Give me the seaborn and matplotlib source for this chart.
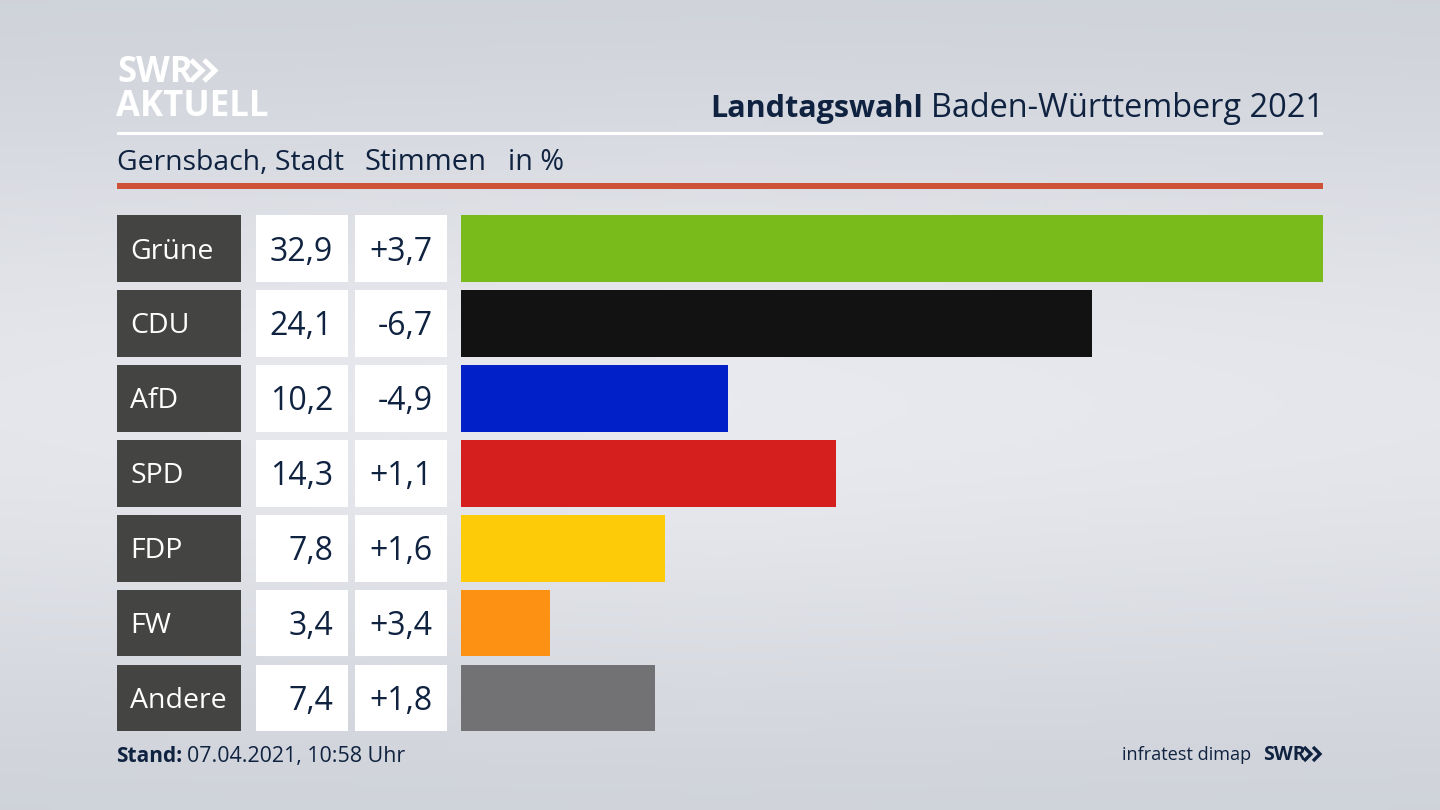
import numpy as np
import pandas as pd
import matplotlib
matplotlib.use('Agg')
import matplotlib.pyplot as plt
import seaborn as sns
from matplotlib.patches import Rectangle
from matplotlib.transforms import blended_transform_factory

parteien = ['Grüne', 'CDU', 'AfD', 'SPD', 'FDP', 'FW', 'Andere']
stimmen = [32.9, 24.1, 10.2, 14.3, 7.8, 3.4, 7.4]
stimmen_text = ['32,9', '24,1', '10,2', '14,3', '7,8', '3,4', '7,4']
diff_text = ['+3,7', '-6,7', '-4,9', '+1,1', '+1,6', '+3,4', '+1,8']
farben = ['#78bb1a', '#121212', '#0120c8', '#d51f1e', '#fdcb08', '#fd9114', '#727274']

W, H = 1440, 810
NAVY = '#0f2240'
FONT = 'Open Sans'

sns.set_theme(style='white')
plt.rcParams['font.family'] = [FONT, 'DejaVu Sans']

fig = plt.figure(figsize=(W / 100, H / 100), dpi=100)

# background, light band in the middle
bg = fig.add_axes([0, 0, 1, 1], zorder=0)
yy, xx = np.mgrid[0:1:200j, 0:1:200j]
shade = np.exp(-(((yy - 0.5) / 0.36) ** 2)) * (1 - 0.15 * np.abs(xx - 0.5) * 2)
bg.imshow(shade, cmap=matplotlib.colors.LinearSegmentedColormap.from_list('bg', ['#ccd0d7', '#e9eaef']),
          extent=[0, W, H, 0], aspect='auto', vmin=0, vmax=1)
bg.set_xlim(0, W)
bg.set_ylim(H, 0)
bg.axis('off')


def chevrons(x0, y0, y1, width, gap, lw, color):
    # the two arrows of the SWR logo
    for k in range(2):
        left = x0 + k * gap
        bg.plot([left, left + width, left], [y0, (y0 + y1) / 2, y1], color=color, lw=lw,
                solid_joinstyle='miter', solid_capstyle='butt')


# bars
ax = fig.add_axes([461 / W, 1 - 735.5 / H, (1323 - 461) / W, 524.5 / H], zorder=2)
df = pd.DataFrame({'partei': parteien, 'stimmen': stimmen})
sns.barplot(data=df, y='partei', x='stimmen', hue='partei', palette=farben, order=parteien,
            hue_order=parteien, width=0.89, saturation=1, legend=False, linewidth=0, ax=ax)
ax.set_xlim(0, max(stimmen))
ax.set_ylim(6.5, -0.5)
ax.axis('off')
ax.patch.set_alpha(0)

# table cells left of the bars, x in pixels, y on the bar axis
trans = blended_transform_factory(bg.transData, ax.transData)
for i, partei in enumerate(parteien):
    for x0, x1, col in [(117, 241, '#444442'), (256, 348, 'white'), (355, 447, 'white')]:
        fig.add_artist(Rectangle((x0, i - 0.445), x1 - x0, 0.89, transform=trans, facecolor=col, edgecolor='none'))
    fig.text(130, i - 0.006, partei, transform=trans, color='white', fontsize=20.5, va='center_baseline', ha='left')
    fig.text(333, i - 0.006, stimmen_text[i], transform=trans, color=NAVY, fontsize=23, va='center_baseline', ha='right')
    fig.text(432.5, i - 0.006, diff_text[i], transform=trans, color=NAVY, fontsize=23, va='center_baseline', ha='right')

# header
bg.text(117, 82, 'SWR', color='white', fontsize=25, fontweight='bold', va='baseline')
chevrons(191, 60, 81, 11, 13, 3.6, 'white')
bg.text(116, 116, 'AKTUELL', color='white', fontsize=25, fontweight='bold', va='baseline')

title = bg.text(1324, 117, 'Baden-Württemberg 2021', color=NAVY, fontsize=23.4, ha='right', va='baseline')
fig.canvas.draw()
tb = title.get_window_extent()
bg.text(tb.x0 - 8, 117, 'Landtagswahl', color=NAVY, fontsize=22, fontweight='bold', ha='right', va='baseline')

bg.add_patch(Rectangle((117, 132), 1206, 3, facecolor='white', edgecolor='none'))
bg.add_patch(Rectangle((117, 183), 1206, 6, facecolor='#cd5237', edgecolor='none'))

bg.text(117, 170, 'Gernsbach, Stadt', color=NAVY, fontsize=20.4, va='baseline')
bg.text(364, 170, 'Stimmen', color=NAVY, fontsize=21, va='baseline')
bg.text(508, 170, 'in %', color=NAVY, fontsize=20.7, va='baseline')

# footer
bg.text(116, 762, 'Stand:', color=NAVY, fontsize=15, fontweight='bold', va='baseline')
bg.text(187, 762, '07.04.2021, 10:58 Uhr', color=NAVY, fontsize=15.4, va='baseline')
bg.text(1251, 760, 'infratest dimap', color=NAVY, fontsize=13.1, ha='right', va='baseline')
bg.text(1263, 760, 'SWR', color=NAVY, fontsize=14, fontweight='bold', va='baseline')
chevrons(1304, 747, 761, 7, 9, 2.4, NAVY)

fig.savefig('out.png', dpi=100)
